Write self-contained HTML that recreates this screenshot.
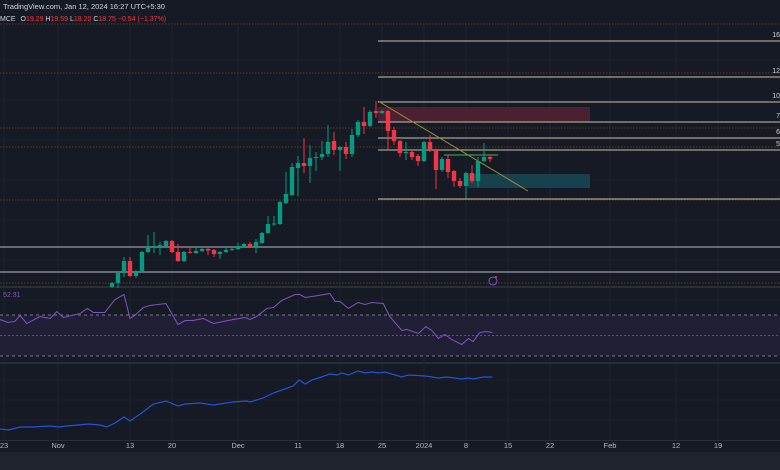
<!DOCTYPE html>
<html><head><meta charset="utf-8"><style>
html,body{margin:0;padding:0;background:#161a25;width:780px;height:470px;overflow:hidden}
svg{display:block;font-family:"Liberation Sans",sans-serif}
</style></head><body>
<svg id="chart" width="780" height="470" viewBox="0 0 780 470" xmlns="http://www.w3.org/2000/svg">
<rect x="0" y="0" width="780" height="470" fill="#161a25"/>
<rect x="0" y="452" width="780" height="18" fill="#1f232e"/>
<g id="grid"></g>
<g id="levels"></g>
<g id="candles"></g>
<g id="rsi"></g>
<g id="obv"></g>
<g id="xaxis"></g>
<text x="3" y="9" font-size="7.5" fill="#d1d4dc">TradingView.com, Jan 12, 2024 16:27 UTC+5:30</text>
<text x="0" y="21" font-size="7" fill="#d1d4dc">MCE <tspan dx="3">O</tspan><tspan fill="#f23645">19.29</tspan> H<tspan fill="#f23645">19.59</tspan> L<tspan fill="#f23645">18.20</tspan> C<tspan fill="#f23645">18.75</tspan> <tspan fill="#f23645">−0.54 (−1.37%)</tspan></text>
<text x="3" y="297" font-size="7" fill="#7e57c2">52.31</text>
</svg>
<script>
const candleStartDay = 18;
const opens  = [4.8,5.2,6.2,7.4,5.9,6.3,8.3,8.8,8.8,8.9,9.4,8.3,7.4,8.3,8.2,8.4,8.6,8.5,8.1,8.3,8.5,8.6,8.8,9.1,8.8,9.2,10.2,11.1,11.1,13.2,14.0,16.7,17.2,16.9,17.7,17.8,18.1,19.4,18.5,18.8,18.1,20.0,21.3,20.9,22.4,22.2,22.4,20.5,19.4,18.2,18.3,17.9,17.4,19.3,18.5,16.5,17.6,16.4,15.4,14.9,16.2,15.4,17.4,17.8];
const closes = [5.2,6.2,7.4,5.9,6.3,8.3,8.8,8.9,9.0,9.4,8.3,7.4,8.3,8.25,8.4,8.6,8.45,8.1,8.3,8.5,8.6,8.9,9.1,8.8,9.3,10.2,11.1,11.15,13.3,14.1,16.8,17.2,16.9,17.7,17.8,18.1,19.3,18.5,18.8,18.1,20.0,21.3,20.9,22.3,22.2,22.4,20.4,19.4,18.2,18.3,17.8,17.4,19.3,18.5,16.5,17.6,16.3,15.4,14.9,16.2,15.4,17.4,17.8,17.6];
const highs  = [5.3,6.4,7.8,7.8,6.5,8.4,10.0,10.3,9.3,9.5,9.5,9.1,8.4,8.7,8.9,8.7,8.7,8.6,8.4,8.7,8.7,9.2,9.2,9.3,9.6,10.3,11.9,11.9,13.4,16.3,17.2,17.9,19.7,19.0,18.3,19.4,21.0,20.3,18.9,19.3,20.6,21.5,22.8,22.5,23.4,22.5,22.5,20.8,19.5,19.3,18.5,18.1,19.4,20.0,18.6,17.8,18.0,16.5,15.7,16.3,17.0,17.8,19.2,17.9];
const lows   = [4.7,4.7,5.8,5.8,5.7,6.2,8.2,8.2,8.0,8.8,8.2,7.3,7.3,8.2,8.1,8.3,8.0,7.8,7.6,8.2,8.4,8.5,8.7,8.7,8.2,9.1,10.1,10.9,11.0,13.1,13.9,13.9,16.2,15.2,16.4,17.5,17.8,18.0,16.4,17.6,17.8,19.8,20.1,20.8,21.7,22.1,18.5,19.0,17.8,17.5,17.5,16.9,17.3,18.3,14.6,16.3,15.7,14.8,14.7,13.7,15.2,14.8,17.3,17.3];
const solidLevels = [29.4, 25.8, 23.3, 21.3, 19.7, 18.5, 13.6];
const fullSolidLevels = [8.8, 6.3];
const dottedLevels = [31.1, 26.2, 20.7, 18.8, 13.5, 5.2];
const levelLabels = ["16","12","10","7","6","5"];
const rsiDays = [-0.7,0.7,1.8,2.7,3.8,6,7.7,8.8,9.9,12.7,13.9,14.9,16.8,18.5,20,21,21.8,23.2,24.3,27,29,30.2,31.5,33.2,34.9,38.2,40.2,41,42.1,43.8,44.9,46.3,48.5,49.3,50.2,52.4,54.3,55.2,56,57.4,59,60.2,61.3,63.2,64.3,66.3,67.1,69.1,70.3,71.3,72.4,73.5,74.6,76.3,77.4,78.2,79.3,80.4,81.4];
const rsiValues = [65.6,62.7,63.7,69.5,61.7,68.5,66.6,73.4,67.6,71.5,76.4,72.5,72.5,85.1,90.0,66.6,69.5,77.3,79.3,81.2,60.7,64.6,64.6,66.6,61.7,65.6,67.6,65.6,68.5,76.4,77.3,84.2,90.0,90.0,87.1,89.0,91.0,83.2,83.2,76.4,82.2,80.3,82.2,81.2,68.5,54.9,55.9,52.0,58.8,54.9,47.1,51.0,46.1,41.2,47.1,44.1,52.9,53.9,52.9];
const obvDays = [-0.7,0.7,2.7,4.9,7.7,9.1,10.4,14.1,16,17.1,18.5,20,21,22.7,24.9,27,29,30.2,32.7,34.9,38.2,40.4,41,43.2,44.9,48.2,49.2,50.2,51.3,52.4,54.3,55.5,56.3,57.4,59,60.2,61.3,62.4,63.5,66.3,67.4,70.2,72.4,73.8,76.3,77.4,78.2,79.9,81.4];
const obvValues = [1.1,1.0,1.3,1.3,1.4,1.3,1.4,1.6,1.5,1.3,1.7,2.3,1.9,2.6,3.6,3.9,3.4,3.6,3.7,3.5,3.8,3.9,3.8,4.2,4.7,5.4,6.0,5.6,6.0,6.2,6.6,6.5,6.7,6.5,6.9,6.7,6.8,6.7,6.8,6.3,6.5,6.4,6.2,6.3,6.1,6.2,6.1,6.3,6.3];
const xTickLabels = ["23","Nov","13","20","Dec","11","18","25","2024","8","15","22","Feb","12","19"];
const xTickDays = [0,9,21,28,39,49,56,63,70,77,84,91,101,112,119];

const NS="http://www.w3.org/2000/svg";
const X = d => 4 + d*6;
const Y = p => 285 - (p-5)*10;
const YR = v => 335.5 - (v-50)*1.025;
const YO = v => 440 - v*10;
function mk(tag, attrs, parent){const e=document.createElementNS(NS,tag);for(const k in attrs)e.setAttribute(k,attrs[k]);parent.appendChild(e);return e;}
const grid=document.getElementById('grid'), lv=document.getElementById('levels'), cg=document.getElementById('candles');
const rg=document.getElementById('rsi'), og=document.getElementById('obv'), xa=document.getElementById('xaxis');

let sep = mk('rect',{x:0,y:286,width:780,height:2,fill:'#2a2e39'},grid);


let sep2 = mk('rect',{x:0,y:362,width:780,height:2,fill:'#2a2e39'},grid);


let sep3 = mk('line',{x1:0,y1:440.5,x2:780,y2:440.5,stroke:'#2a2e39'},grid);



xTickDays.forEach((d,i)=>{
  const gl=mk('line',{x1:X(d),y1:26,x2:X(d),y2:440,stroke:'#1f2431','stroke-width':1},grid);
  
  
  const t=mk('text',{x:X(d),y:448,'font-size':7.5,fill:'#b2b5be','text-anchor':'middle'},xa);
  t.textContent=xTickLabels[i];
  
  
});
[60,100,140,180,220,260,300,320,340,380,400,420].forEach(y=>{
  const gl=mk('line',{x1:0,y1:y,x2:780,y2:y,stroke:'#1c202c','stroke-width':1},grid);
  
  
});

let rz=mk('rect',{x:378,y:Y(22.8),width:212,height:Y(21.3)-Y(22.8),fill:'#4b2030'},lv);


let tz=mk('rect',{x:468,y:Y(16.1),width:122,height:Y(14.7)-Y(16.1),fill:'#17424d'},lv);



dottedLevels.forEach(p=>{
  const l=mk('line',{x1:0,y1:Y(p),x2:780,y2:Y(p),stroke:'#5a3f20','stroke-width':1,'stroke-dasharray':'1.5 1.5'},lv);
  
  
});
solidLevels.forEach((p,i)=>{
  const l=mk('line',{x1:378,y1:Y(p),x2:780,y2:Y(p),stroke:'#c8c3a8','stroke-width':1},lv);
  
  
  if(i<levelLabels.length){
    const t=mk('text',{x:780,y:Y(p)-4,'font-size':7,fill:'#d1d4dc','text-anchor':'end'},lv);
    t.textContent=levelLabels[i];
    
    
  }
});
fullSolidLevels.forEach(p=>{
  const l=mk('line',{x1:0,y1:Y(p),x2:780,y2:Y(p),stroke:'#b8bac2','stroke-width':1},lv);
  
  
});
let tl=mk('line',{x1:378,y1:Y(23.4),x2:528,y2:Y(14.4),stroke:'#a08a3a','stroke-width':1},lv);


let gl2=mk('line',{x1:444,y1:Y(18.0),x2:498,y2:Y(18.0),stroke:'#4caf50','stroke-width':1},lv);



opens.forEach((o,i)=>{
  const c=closes[i], x=X(candleStartDay+i), up=c>=o, col=up?'#089981':'#f23645';
  const w=mk('line',{x1:x,y1:Y(highs[i]),x2:x,y2:Y(lows[i]),stroke:col,'stroke-width':1},cg);
  
  
  const top=Y(Math.max(o,c)), h=Math.max(1,Math.abs(Y(o)-Y(c)));
  const b=mk('rect',{x:x-2.2,y:top,width:4.4,height:h,fill:col},cg);
  
  
});
let ic=mk('circle',{cx:493,cy:281,r:4,fill:'none',stroke:'#7e57c2','stroke-width':1},cg);


let icd=mk('circle',{cx:496,cy:277,r:1,fill:'#f23645'},cg);



let band=mk('rect',{x:0,y:YR(70),width:780,height:YR(30)-YR(70),fill:'#211f36'},rg);


[70,50,30].forEach(v=>{
  const l=mk('line',{x1:0,y1:YR(v),x2:780,y2:YR(v),stroke:v===50?'#5d5670':'#787b86','stroke-width':1,'stroke-dasharray':v===50?'2 2':'3 3'},rg);
  
  
});
let rp=mk('polyline',{points:rsiDays.map((d,i)=>X(d)+','+YR(rsiValues[i])).join(' '),fill:'none',stroke:'#7e57c2','stroke-width':1},rg);



let op=mk('polyline',{points:obvDays.map((d,i)=>X(d)+','+YO(obvValues[i])).join(' '),fill:'none',stroke:'#2962ff','stroke-width':1.2,opacity:0.8},og);


</script>
</body></html>
